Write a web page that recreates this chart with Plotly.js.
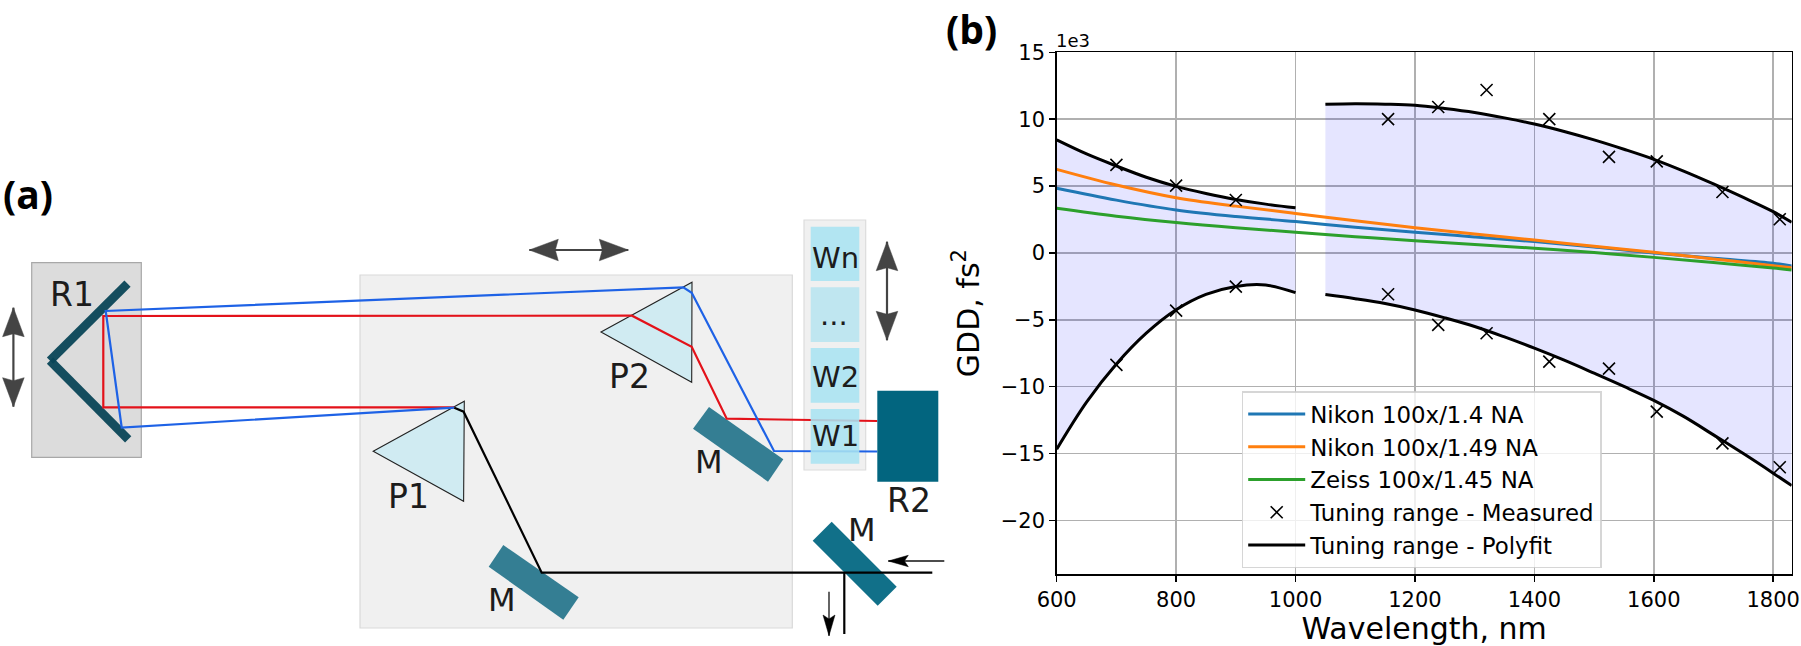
<!DOCTYPE html>
<html><head><meta charset="utf-8">
<script src="https://cdn.plot.ly/plotly-3.0.1.min.js"></script>
<style>html,body{margin:0;padding:0;background:#fff;overflow:hidden}</style>
</head><body><div id="chart" style="width:1801px;height:646px"></div>
<script>
// ---- chart data (GDD in units of 1e3 fs^2) ----
const objX = [600,700,800,900,1000,1100,1200,1300,1400,1500,1600,1700,1800,1831];
const nikon14  = [4.84,3.95,3.21,2.72,2.35,1.92,1.55,1.2,0.85,0.44,0.0,-0.4,-0.77,-0.97];
const nikon149 = [6.25,5.08,4.13,3.5,2.95,2.4,1.89,1.42,0.97,0.5,0.05,-0.45,-0.95,-1.1];
const zeiss145 = [3.34,2.75,2.27,1.88,1.55,1.22,0.92,0.63,0.35,0.03,-0.33,-0.72,-1.12,-1.27];

const measX = [700,800,900,1155,1239,1320,1425,1525,1605,1715,1811];
const measUpper = [6.58,5.03,3.96,10.0,10.91,12.18,10.0,7.18,6.85,4.56,2.52];
const measLower = [-8.37,-4.31,-2.52,-3.09,-5.38,-6.0,-8.12,-8.65,-11.86,-14.23,-16.02];

const fitLeftX = [600,650,700,750,800,850,900,950,1000];
const fitLeftUpper = [8.45,7.4,6.5,5.66,4.98,4.45,4.0,3.65,3.38];
const fitLeftLower = [-14.67,-11.15,-8.3,-6.0,-4.25,-3.1,-2.5,-2.4,-2.97];
const fitRightX = [1050,1100,1150,1200,1250,1300,1350,1400,1450,1500,1550,1600,1650,1700,1750,1800,1831];
const fitRightUpper = [11.11,11.15,11.12,11.04,10.8,10.5,10.1,9.64,9.08,8.45,7.75,7.0,6.12,5.16,4.15,3.09,2.29];
const fitRightLower = [-3.11,-3.42,-3.78,-4.26,-4.85,-5.5,-6.28,-7.12,-8.02,-8.99,-9.98,-11.02,-12.22,-13.6,-15.0,-16.46,-17.39];

const legendNames = ['Nikon 100x/1.4 NA','Nikon 100x/1.49 NA','Zeiss 100x/1.45 NA','Tuning range - Measured','Tuning range - Polyfit'];
const xTicks = [600,800,1000,1200,1400,1600,1800];
const yTicks = [15,10,5,0,-5,-10,-15,-20];

// ---- schematic geometry, in the units of a hidden overlay axis ----
const R1_BOX = [31.7,262.7,141.3,457.3];
const STAGE_BOX = [360,275,792.3,628];
const HOLDER_BOX = [804,220,865.7,470];
const R2_BOX = [877.3,390.7,938.3,481.7];
const WINDOWS = [[810.7,226.7,859.3,281],[810.7,348,859.3,402.7],[810.7,409,859.3,463.7]];
const WINDOW_DOTS = [810.7,287.3,859.3,342];
const P1 = [[373.2,451.3],[464.3,401.3],[463.6,501.3]];
const P2 = [[601,332],[692,282.3],[691.7,382.3]];
const M_TOP = [[709,407],[783.3,459.3],[768,481.7],[693,428.7]];
const M_BOTTOM = [[503.3,545],[578.7,597.3],[563.3,619.7],[488.7,566.7]];
const M_RIGHT = [[831.7,521.7],[896.7,586.7],[877.7,605.7],[812.7,540.7]];
const R1_ARMS = [[[127.5,283.7],[50,360.7]],[[50,360.7],[128.2,439.3]]];
const RED_BEAM = [[454.3,407.3],[103.3,407.3],[103.3,316],[632,315.7],[691.7,346.7],[726.7,418.7],[877.3,421]];
const BLUE_BEAM = [[454.3,407.7],[121.7,427.5],[105.7,311],[683.3,287.3],[691.7,292.7],[774,451],[877.3,451.5]];
const BLACK_BEAM = [[932.3,572.7],[541.7,572.7],[463.6,411.7],[454.3,407.7]];
const BLACK_OUT = [[844.3,572.7],[844.3,634]];
const DOUBLE_ARROWS = [
  {a:[13.4,307.7], b:[13.4,406.7], len:29, half:10.8},
  {a:[887,241.7],  b:[887,340.3],  len:29, half:10.8},
  {a:[529.3,250],  b:[628.3,250],  len:29, half:10.8}
];
const THIN_ARROWS = [
  {from:[944.3,561], to:[888.3,561], len:20, half:5.7},
  {from:[829,591.7], to:[829,635.7], len:20.7, half:6}
];
const LABELS = [
  ['R1',72,294,33],['P1',408,496,33],['P2',629,376,33],
  ['M',708.7,462.3,32],['M',502.3,600,32],['M',862,530,32],['R2',908.5,500.7,33],
  ['Wn',835,258,29],['...',834,315,29],['W2',835.7,376.7,29],['W1',835,435.7,29]
];

// ---- helpers ----
const poly = (pts,close)=>'M'+pts.map(p=>p[0]+','+p[1]).join('L')+(close?'Z':'');
const box = (b,fill,line,lw)=>({type:'rect',xref:'x2',yref:'y2',layer:'above',x0:b[0],y0:b[1],x1:b[2],y1:b[3],fillcolor:fill,line:{color:line,width:lw}});
const shapeFill = (pts,fill,line,lw)=>({type:'path',xref:'x2',yref:'y2',layer:'above',path:poly(pts,true),fillcolor:fill,line:{color:line,width:lw}});
const shapeLine = (pts,color,w)=>({type:'path',xref:'x2',yref:'y2',layer:'above',path:poly(pts,false),line:{color:color,width:w}});
function head(tip,from,len,half,notch){
  const dx=from[0]-tip[0],dy=from[1]-tip[1],d=Math.hypot(dx,dy),ux=dx/d,uy=dy/d;
  const bx=tip[0]+ux*len,by=tip[1]+uy*len;
  return [tip,[bx-uy*half,by+ux*half],[tip[0]+ux*(len-notch),tip[1]+uy*(len-notch)],[bx+uy*half,by-ux*half]];
}

const shapes = [
  box(R1_BOX,'#dcdcdc','#a8a8a8',1.2),
  box(STAGE_BOX,'#f0f0f0','#d9d9d9',1.2),
  box(HOLDER_BOX,'#f0f0f0','#dcdcdc',1.2),
  shapeFill(P1,'#d0ebf2','#222222',1.1),
  shapeFill(P2,'#d0ebf2','#222222',1.1),
  shapeFill(M_TOP,'#347e93','rgba(0,0,0,0)',0),
  shapeFill(M_BOTTOM,'#347e93','rgba(0,0,0,0)',0),
  shapeFill(M_RIGHT,'#117089','rgba(0,0,0,0)',0),
  shapeLine(R1_ARMS[0],'rgba(8,68,86,0.95)',8.8),
  shapeLine(R1_ARMS[1],'rgba(8,68,86,0.95)',8.8),
  shapeLine(RED_BEAM,'#e3121a',2.2),
  shapeLine(BLUE_BEAM,'#1e62e6',2.2),
  shapeLine(BLACK_BEAM,'#000000',2.2),
  shapeLine(BLACK_OUT,'#000000',2.2),
  ...WINDOWS.map(w=>box(w,'rgba(168,226,241,0.88)','rgba(0,0,0,0)',0)),
  box(WINDOW_DOTS,'#bfe6f0','rgba(0,0,0,0)',0),
  box(R2_BOX,'#02657f','rgba(0,0,0,0)',0)
];
DOUBLE_ARROWS.forEach(a=>{
  shapes.push(shapeLine([a.a,a.b],'#444444',2.2));
  shapes.push(shapeFill(head(a.a,a.b,a.len,a.half,3),'#444444','#444444',0.5));
  shapes.push(shapeFill(head(a.b,a.a,a.len,a.half,3),'#444444','#444444',0.5));
});
THIN_ARROWS.forEach(a=>{
  shapes.push(shapeLine([a.from,a.to],'#111111',1.3));
  shapes.push(shapeFill(head(a.to,a.from,a.len,a.half,4),'#000000','#000000',0.5));
});

const annotations = LABELS.map(l=>({xref:'x2',yref:'y2',x:l[1],y:l[2],text:l[0],showarrow:false,xanchor:'center',yanchor:'middle',
  font:{family:'DejaVu Sans',size:l[3],color:'#1c1c1c'}}));
annotations.push({xref:'x2',yref:'y2',x:28,y:193,text:'<b>(a)</b>',showarrow:false,font:{family:'Open Sans',size:39,color:'#000'}});
annotations.push({xref:'x2',yref:'y2',x:971.7,y:28,text:'<b>(b)</b>',showarrow:false,font:{family:'Open Sans',size:39,color:'#000'}});
annotations.push({xref:'x2',yref:'y2',x:1073.3,y:40,text:'1e3',showarrow:false,font:{family:'DejaVu Sans',size:18,color:'#000'}});

const FILL='rgba(0,0,255,0.1)';
const traces = [
  {x:[null],y:[null],xaxis:'x2',yaxis:'y2',showlegend:false,hoverinfo:'skip',mode:'lines'},
  {x:fitLeftX,y:fitLeftLower,mode:'lines',line:{width:0,color:'rgba(0,0,0,0)'},showlegend:false,hoverinfo:'skip'},
  {x:fitLeftX,y:fitLeftUpper,mode:'lines',line:{width:0,color:'rgba(0,0,0,0)'},fill:'tonexty',fillcolor:FILL,showlegend:false,hoverinfo:'skip'},
  {x:fitRightX,y:fitRightLower,mode:'lines',line:{width:0,color:'rgba(0,0,0,0)'},showlegend:false,hoverinfo:'skip'},
  {x:fitRightX,y:fitRightUpper,mode:'lines',line:{width:0,color:'rgba(0,0,0,0)'},fill:'tonexty',fillcolor:FILL,showlegend:false,hoverinfo:'skip'},
  {x:objX,y:nikon14,name:legendNames[0],mode:'lines',line:{color:'#1f77b4',width:3,shape:'spline'}},
  {x:objX,y:nikon149,name:legendNames[1],mode:'lines',line:{color:'#ff7f0e',width:3,shape:'spline'}},
  {x:objX,y:zeiss145,name:legendNames[2],mode:'lines',line:{color:'#2ca02c',width:3,shape:'spline'}},
  {x:measX,y:measUpper,name:legendNames[3],mode:'markers',marker:{symbol:'x-thin',size:12,color:'#000',line:{color:'#000',width:1.6}}},
  {x:measX,y:measLower,name:legendNames[3],mode:'markers',showlegend:false,marker:{symbol:'x-thin',size:12,color:'#000',line:{color:'#000',width:1.6}}},
  {x:fitLeftX,y:fitLeftUpper,name:legendNames[4],mode:'lines',line:{color:'#000',width:3,shape:'spline'}},
  {x:fitLeftX,y:fitLeftLower,mode:'lines',showlegend:false,line:{color:'#000',width:3,shape:'spline'}},
  {x:fitRightX,y:fitRightUpper,mode:'lines',showlegend:false,line:{color:'#000',width:3,shape:'spline'}},
  {x:fitRightX,y:fitRightLower,mode:'lines',showlegend:false,line:{color:'#000',width:3,shape:'spline'}}
];

const W=1801,H=646;
const tickFont={family:'DejaVu Sans',size:21,color:'#000'};
const axisCommon={showline:true,linecolor:'#000',linewidth:1.5,mirror:true,ticks:'outside',ticklen:6,tickwidth:1.5,tickcolor:'#000',
  showgrid:true,gridcolor:'#b0b0b0',gridwidth:1.5,zeroline:false,tickfont:tickFont,automargin:false,fixedrange:true};
const layout = {
  width:W,height:H,margin:{l:0,r:0,t:0,b:0,pad:0},paper_bgcolor:'#fff',plot_bgcolor:'rgba(0,0,0,0)',
  font:{family:'DejaVu Sans',color:'#000'},
  xaxis:Object.assign({},axisCommon,{domain:[1056.7/W,1791.7/W],range:[600,1831],tickmode:'array',tickvals:xTicks,
    title:{text:'Wavelength, nm',font:{family:'DejaVu Sans',size:30,color:'#000'},standoff:10}}),
  yaxis:Object.assign({},axisCommon,{domain:[1-574/H,1-52.3/H],range:[-24,15],tickmode:'array',tickvals:yTicks,
    title:{text:'GDD, fs<sup>2</sup>',font:{family:'DejaVu Sans',size:30,color:'#000'},standoff:12}}),
  xaxis2:{domain:[0,1],range:[0,W],visible:false,anchor:'y2',fixedrange:true},
  yaxis2:{domain:[0,1],range:[H,0],visible:false,anchor:'x2',fixedrange:true},
  legend:{x:1241.7/W,y:1-391/H,xanchor:'left',yanchor:'top',traceorder:'normal',bgcolor:'rgba(255,255,255,0.8)',bordercolor:'rgba(204,204,204,0.8)',borderwidth:1.5,
    font:{family:'DejaVu Sans',size:22.9,color:'#000'},itemwidth:57,tracegroupgap:0},
  shapes:shapes,annotations:annotations,showlegend:true
};
Plotly.newPlot('chart',traces,layout,{displayModeBar:false,staticPlot:true});
</script></body></html>
